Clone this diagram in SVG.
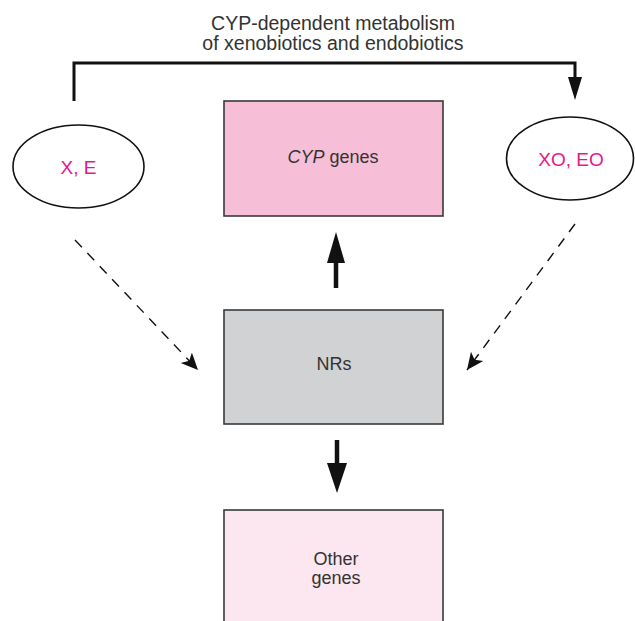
<svg xmlns="http://www.w3.org/2000/svg" width="635" height="621" viewBox="0 0 635 621">
<defs>
<style>
.lbl{font-family:"Liberation Sans",Arial,sans-serif;font-size:18px;fill:#333;text-anchor:middle}
.mag{font-family:"Liberation Sans",Arial,sans-serif;font-size:19px;fill:#e5178a;text-anchor:middle}
.top{font-family:"Liberation Sans",Arial,sans-serif;font-size:19.5px;fill:#333;text-anchor:middle}
.box{stroke:#3a3a3a;stroke-width:1.6}
.ell{fill:#fff;stroke:#111;stroke-width:1.6}
.dash{fill:none;stroke:#111;stroke-width:1.4;stroke-dasharray:10 8}
</style>
<marker id="dh" viewBox="0 0 10 10" refX="10" refY="5" markerWidth="17" markerHeight="17" markerUnits="userSpaceOnUse" orient="auto">
<path d="M0,0.5 L10,5 L0,9.5 L2.5,5 Z" fill="#111"/>
</marker>
</defs>
<g id="title">
<text class="top" x="333" y="30">CYP-dependent metabolism</text>
<text class="top" x="333" y="50">of xenobiotics and endobiotics</text>
</g>
<g id="xe">
<ellipse class="ell" cx="78.5" cy="166.5" rx="65.5" ry="41.5"/>
<text class="mag" x="78.5" y="174">X, E</text>
</g>
<g id="xoeo">
<ellipse class="ell" cx="570" cy="158.5" rx="63.5" ry="41.5"/>
<text class="mag" x="571" y="166">XO, EO</text>
</g>
<g id="cyp">
<rect class="box" x="224" y="101" width="219" height="115" fill="#f6bfd7"/>
<text class="lbl" x="333" y="163"><tspan font-style="italic">CYP</tspan> genes</text>
</g>
<g id="nrs">
<rect class="box" x="224" y="310" width="219" height="114" fill="#d1d2d4"/>
<text class="lbl" x="334" y="370">NRs</text>
</g>
<g id="other">
<rect class="box" x="224" y="510" width="219" height="120" fill="#fce6ef"/>
<text class="lbl" x="336" y="565">Other</text>
<text class="lbl" x="336" y="584">genes</text>
</g>
<g id="connectors">
<path d="M74,101 V63 H575 V80" fill="none" stroke="#111" stroke-width="3"/>
<path d="M568,77 L582,77 L575,100 Z" fill="#111"/>
<line class="dash" x1="75" y1="240" x2="198" y2="370" marker-end="url(#dh)"/>
<line class="dash" x1="575" y1="224" x2="467" y2="370" marker-end="url(#dh)"/>
<line x1="336" y1="288" x2="336" y2="258" stroke="#111" stroke-width="4.5"/>
<path d="M327,263 L345,263 L336,232 Z" fill="#111"/>
<line x1="337" y1="440" x2="337" y2="468" stroke="#111" stroke-width="4.5"/>
<path d="M327,463 L347,463 L337,493 Z" fill="#111"/>
</g>
</svg>
